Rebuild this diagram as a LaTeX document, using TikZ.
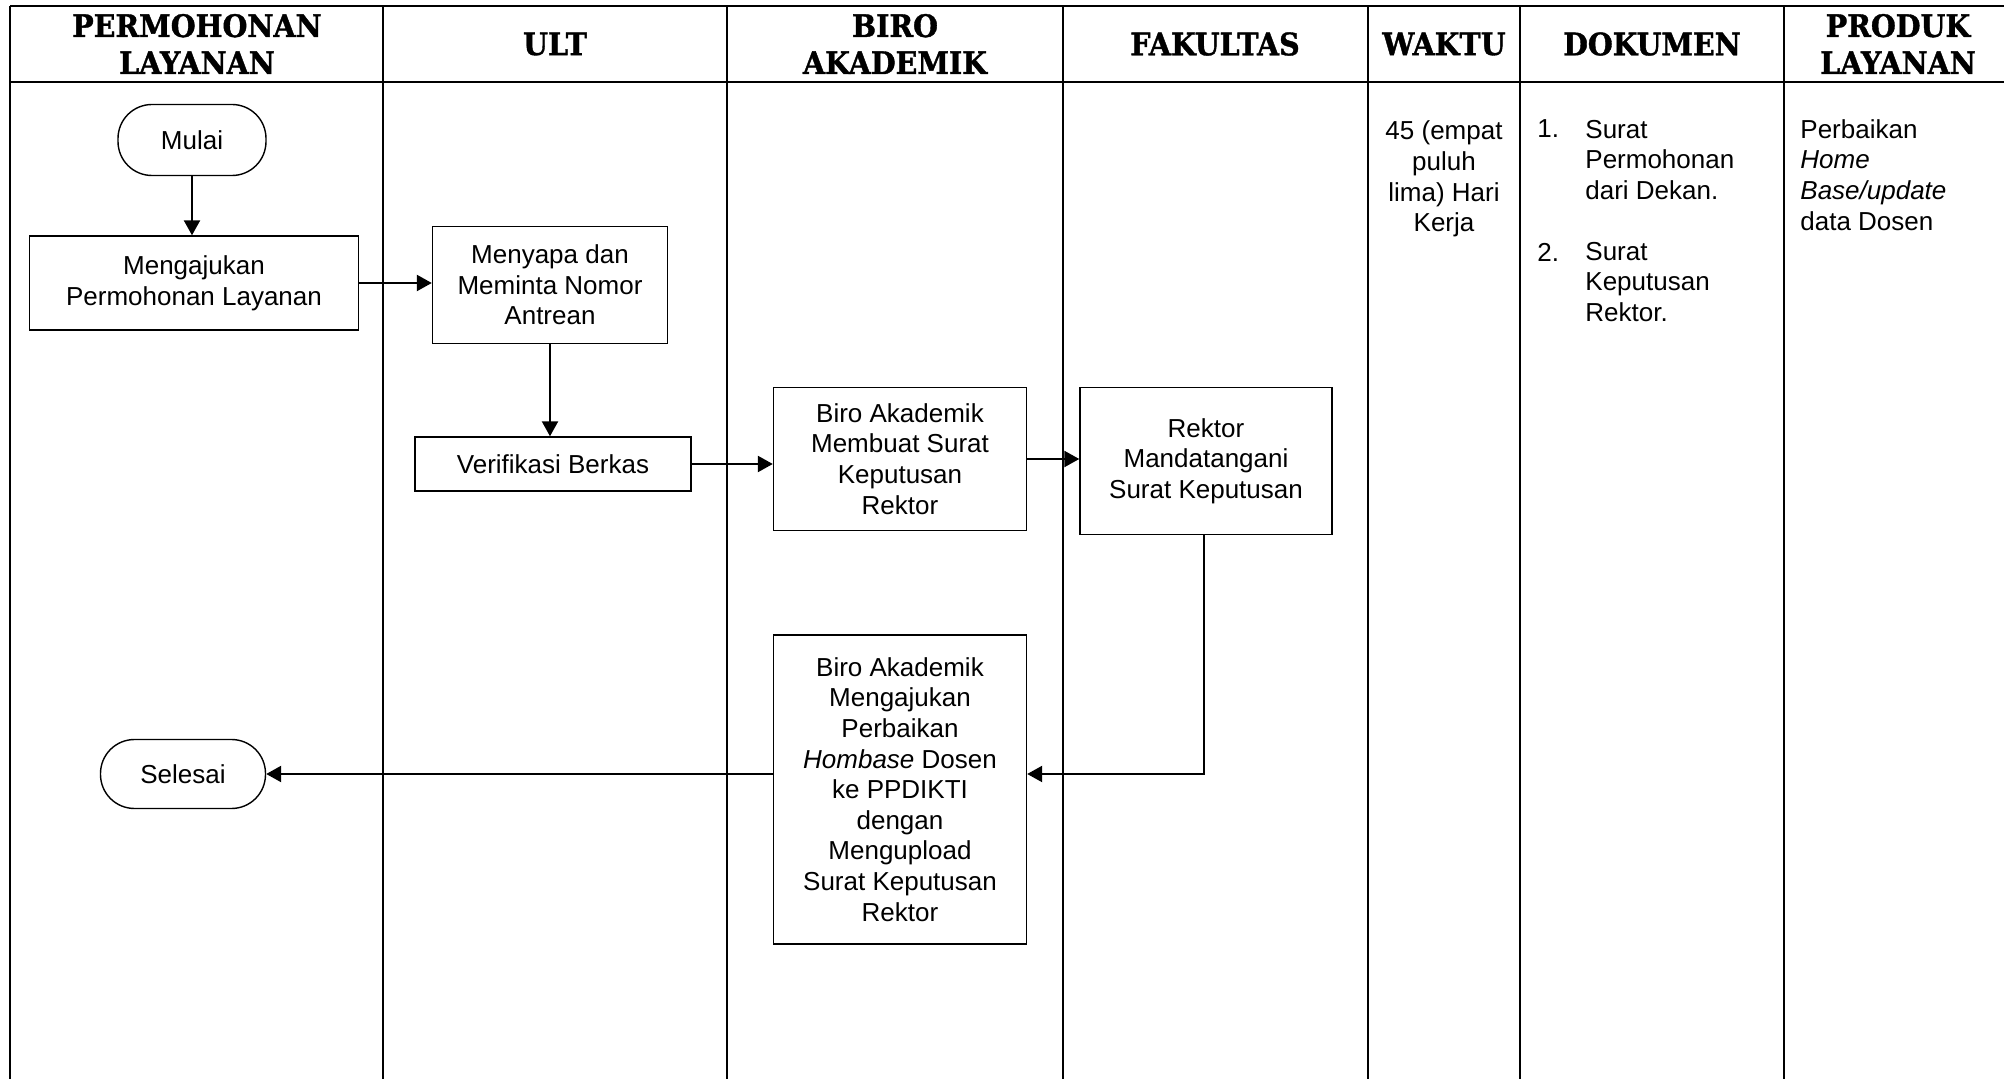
\documentclass[tikz,border=0pt]{standalone}
\usepackage{fontspec}
\setmainfont{Liberation Sans}
\newfontfamily\hdrfont{DejaVu Serif}[BoldFont={DejaVu Serif Bold}, FakeStretch=0.92, FakeBold=1.2]
\usetikzlibrary{arrows.meta}
\begin{document}
\begin{tikzpicture}[x=0.5pt,y=-0.5pt,
  tbl/.style={line width=1.1pt},
  hdr/.style={font=\hdrfont\bfseries\fontsize{15.5}{18.5}\selectfont, align=center, inner sep=0pt},
  txt/.style={font=\fontsize{13}{15.3}\selectfont, inner sep=0pt},
  proc/.style={draw, line width=0.7pt, align=center, font=\fontsize{13}{15.3}\selectfont, inner sep=0pt},
  term/.style={draw, line width=0.7pt, align=center, font=\fontsize{13}{15.3}\selectfont, inner sep=0pt, rounded corners=17pt},
  flow/.style={line width=1.15pt, -{Triangle[length=7.5pt,width=8pt]}}
]
\useasboundingbox (0,0) rectangle (2004,1079);
\fill[white] (0,0) rectangle (2004,1079);
% table frame
\draw[tbl] (10,6) -- (2004,6);
\draw[tbl] (10,82) -- (2004,82);
\foreach \cx in {10,383,727,1063,1368,1520,1784}
  \draw[tbl] (\cx,6) -- (\cx,1079);
% headers
\node[hdr] (h1) at (197,44) {PERMOHONAN\\LAYANAN};
\node[hdr] (h2) at (555,44) {ULT};
\node[hdr] (h3) at (895,44) {BIRO\\AKADEMIK};
\node[hdr] (h4) at (1215,44) {FAKULTAS};
\node[hdr] (h5) at (1444,44) {WAKTU};
\node[hdr] (h6) at (1652,44) {DOKUMEN};
\node[hdr] (h7) at (1898,44) {PRODUK\\LAYANAN};
% flow nodes
\node[term, minimum width=74pt, minimum height=35.5pt] (mulai) at (192,140) {Mulai};
\node[proc, minimum width=164.5pt, minimum height=47pt] (ajukan) at (194,283) {Mengajukan\\Permohonan Layanan};
\node[proc, minimum width=117.5pt, minimum height=58.5pt] (sapa) at (550,285) {Menyapa dan\\Meminta Nomor\\Antrean};
\node[proc, minimum width=138pt, minimum height=27pt] (verif) at (553,464) {Verifikasi Berkas};
\node[proc, minimum width=126.5pt, minimum height=71.5pt] (biro1) at (900,459) {Biro Akademik\\Membuat Surat\\Keputusan\\Rektor};
\node[proc, minimum width=126pt, minimum height=73.5pt] (rektor) at (1206,461) {Rektor\\Mandatangani\\Surat Keputusan};
\node[proc, minimum width=126.5pt, minimum height=154.5pt] (biro2) at (900,789.5) {Biro Akademik\\Mengajukan\\Perbaikan\\\textit{Hombase} Dosen\\ke PPDIKTI\\dengan\\Mengupload\\Surat Keputusan\\Rektor};
\node[term, minimum width=82.5pt, minimum height=34.5pt] (selesai) at (183,774) {Selesai};
% connectors
\draw[flow] (mulai.south) -- (mulai.south |- ajukan.north);
\draw[flow] (ajukan.east) -- (ajukan.east -| sapa.west);
\draw[flow] (sapa.south) -- (sapa.south |- verif.north);
\draw[flow] (verif.east) -- (verif.east -| biro1.west);
\draw[flow] (biro1.east) -- (biro1.east -| rektor.west);
\coordinate (turn) at (1204,774);
\draw[flow] (rektor.south -| turn) -- (turn) -- (turn -| biro2.east);
\draw[flow] (biro2.west |- selesai.east) -- (selesai.east);
% side columns
\node[txt, align=center] (waktu) at (1444,179) {45 (empat\\puluh\\lima) Hari\\Kerja};
\node[txt, anchor=west] (n1) at (1537,129) {1.};
\node[txt, anchor=west, align=left] (d1) at (1585,160) {Surat\\Permohonan\\dari Dekan.};
\node[txt, anchor=west] (n2) at (1537,252) {2.};
\node[txt, anchor=west, align=left] (d2) at (1585,282) {Surat\\Keputusan\\Rektor.};
\node[txt, anchor=west, align=left] (produk) at (1800,175) {Perbaikan\\\textit{Home}\\\textit{Base/update}\\data Dosen};
\end{tikzpicture}
\end{document}
